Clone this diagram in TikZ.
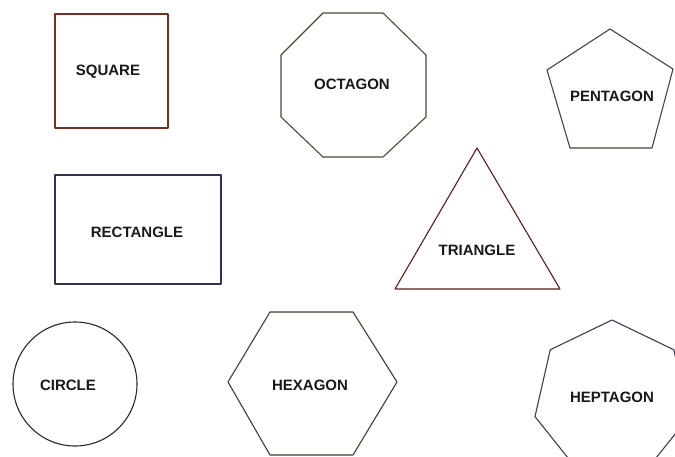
\documentclass[tikz,border=0pt]{standalone}
\usepackage{fontspec}
\setmainfont{Liberation Sans}
\definecolor{sqc}{HTML}{7A2E22}
\definecolor{octc}{HTML}{4A4A38}
\definecolor{penc}{HTML}{3E4A3A}
\definecolor{recc}{HTML}{2E3450}
\definecolor{tric}{HTML}{5A1E18}
\definecolor{circ}{HTML}{2A2A2A}
\definecolor{hexc}{HTML}{3E3E30}
\definecolor{hepc}{HTML}{3A3E5A}
\tikzset{
  shapeline/.style={line width=1.1pt, line join=round},
  lbl/.style={font=\bfseries\fontsize{15}{17}\selectfont, text=black!90, inner sep=0pt}
}
\begin{document}
\begin{tikzpicture}[x=1pt,y=-1pt]
\useasboundingbox (0,0) rectangle (675,457);
\fill[white] (0,0) rectangle (675,457);
% square
\draw[shapeline, sqc] (55,14) rectangle (168,128);
\node[lbl] (square) at (108,72) {SQUARE};
% octagon
\draw[shapeline, octc] (323,13) -- (383,13) -- (426,55) -- (426,117) -- (383,157) -- (323,157) -- (281,117) -- (281,55) -- cycle;
\node[lbl] (octagon) at (352,84) {OCTAGON};
% pentagon
\draw[shapeline, penc] (610,29) -- (673,69) -- (652,148) -- (570,148) -- (547,70) -- cycle;
\node[lbl] (pentagon) at (612,96) {PENTAGON};
% rectangle
\draw[shapeline, recc] (55,175) rectangle (221,284);
\node[lbl] (rectangle) at (137,232) {RECTANGLE};
% triangle
\draw[shapeline, tric] (477,148) -- (560,289) -- (395,289) -- cycle;
\node[lbl] (triangle) at (477,250) {TRIANGLE};
% circle
\draw[shapeline, circ] (75,384) circle[radius=62];
\node[lbl] (circle) at (68,385) {CIRCLE};
% hexagon
\draw[shapeline, hexc] (270,312) -- (353,312) -- (397,382) -- (353,455) -- (270,455) -- (228,382) -- cycle;
\node[lbl] (hexagon) at (310,385) {HEXAGON};
% heptagon (clipped by picture edge)
\begin{scope}
\clip (0,0) rectangle (675,457);
\begin{scope}[shift={(612,399)}]
\draw[shapeline, hepc] (0,-79)
  \foreach \k in {1,...,6} { -- ({79*cos(90+\k*360/7)},{-79*sin(90+\k*360/7)}) } -- cycle;
\end{scope}
\end{scope}
\node[lbl] (heptagon) at (612,397) {HEPTAGON};
\end{tikzpicture}
\end{document}
